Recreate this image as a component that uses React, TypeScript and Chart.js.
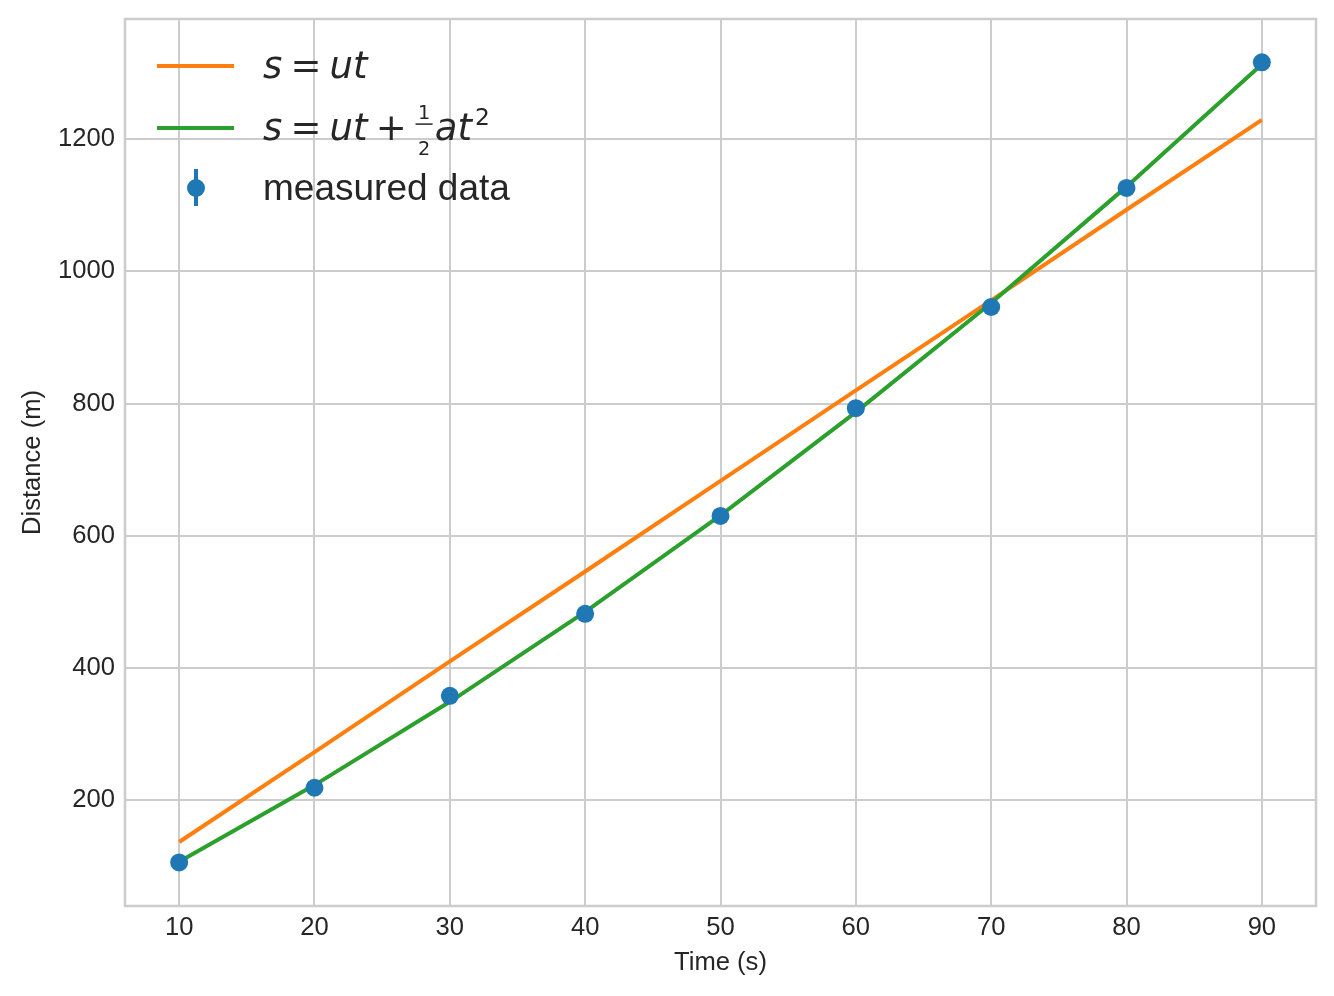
import React, { useEffect, useRef } from "react";
import { Chart, registerables } from "chart.js";

Chart.register(...registerables);

// ---- data ----
const times = [10, 20, 30, 40, 50, 60, 70, 80, 90];
const measured = [106, 219, 358, 482, 630, 793, 946, 1126, 1316];
const measuredErr = [5, 5, 5, 5, 5, 5, 5, 5, 5];
const linearFit = [137, 273, 410, 546, 683, 820, 956, 1093, 1229];
const quadFit = [107, 223, 349, 485, 631, 787, 952, 1128, 1313];
const xTicks = [10, 20, 30, 40, 50, 60, 70, 80, 90];
const yTicks = [200, 400, 600, 800, 1000, 1200];
const xLabel = "Time (s)";
const yLabel = "Distance (m)";
const legendMeasured = "measured data";

// ---- style ----
const BLUE = "#1f77b4";
const ORANGE = "#ff7f0e";
const GREEN = "#2ca02c";
const TEXT = "#262626";
const GRID = "#cccccc";
const SANS = '"Liberation Sans", Arial, sans-serif';
const MATH = '"DejaVu Sans", sans-serif';
const TICK_SIZE = 25.6;
const LEG_SIZE = 37;

type Part =
  | { kind: "txt"; t: string; italic?: boolean; scale?: number; dy?: number }
  | { kind: "sp"; w: number }
  | { kind: "frac"; num: string; den: string; scale: number };

function drawMath(ctx: CanvasRenderingContext2D, x: number, baseline: number, parts: Part[], F: number) {
  let cx = x;
  ctx.fillStyle = TEXT;
  ctx.textBaseline = "alphabetic";
  ctx.textAlign = "left";
  for (const p of parts) {
    if (p.kind === "sp") {
      cx += p.w * F;
    } else if (p.kind === "txt") {
      const size = F * (p.scale ?? 1);
      ctx.font = `${p.italic ? "italic " : ""}${size}px ${MATH}`;
      ctx.fillText(p.t, cx, baseline + (p.dy ?? 0) * F);
      cx += ctx.measureText(p.t).width;
    } else {
      const size = F * p.scale;
      ctx.font = `${size}px ${MATH}`;
      const wn = ctx.measureText(p.num).width;
      const wd = ctx.measureText(p.den).width;
      const w = Math.max(wn, wd) + 0.13 * F;
      const x0 = cx + 0.02 * F;
      const th = 0.04 * F;
      ctx.fillText(p.num, x0 + (w - wn) / 2, baseline - 0.57 * F);
      ctx.fillText(p.den, x0 + (w - wd) / 2, baseline + 0.4 * F);
      ctx.fillRect(x0, baseline - 0.43 * F - th / 2, w, th);
      cx = x0 + w + 0.06 * F;
    }
  }
}

const legendPlugin = {
  id: "customLegend",
  afterDraw(chart: any) {
    const { ctx, chartArea } = chart;
    const L = chartArea.left;
    const T = chartArea.top;
    ctx.save();
    ctx.lineWidth = 4;
    ctx.lineCap = "butt";
    ctx.strokeStyle = ORANGE;
    ctx.beginPath();
    ctx.moveTo(L + 32, T + 47);
    ctx.lineTo(L + 109, T + 47);
    ctx.stroke();
    ctx.strokeStyle = GREEN;
    ctx.beginPath();
    ctx.moveTo(L + 32, T + 109);
    ctx.lineTo(L + 109, T + 109);
    ctx.stroke();
    ctx.strokeStyle = BLUE;
    ctx.beginPath();
    ctx.moveTo(L + 71, T + 150);
    ctx.lineTo(L + 71, T + 187);
    ctx.stroke();
    ctx.fillStyle = BLUE;
    ctx.beginPath();
    ctx.arc(L + 71, T + 169, 9, 0, Math.PI * 2);
    ctx.fill();

    const tx = L + 138;
    const sp = 0.22;
    drawMath(ctx, tx, T + 59, [
      { kind: "txt", t: "s", italic: true },
      { kind: "sp", w: sp },
      { kind: "txt", t: "=" },
      { kind: "sp", w: sp },
      { kind: "txt", t: "ut", italic: true },
    ], LEG_SIZE);
    drawMath(ctx, tx, T + 121, [
      { kind: "txt", t: "s", italic: true },
      { kind: "sp", w: sp },
      { kind: "txt", t: "=" },
      { kind: "sp", w: sp },
      { kind: "txt", t: "ut", italic: true },
      { kind: "sp", w: sp },
      { kind: "txt", t: "+" },
      { kind: "sp", w: sp },
      { kind: "frac", num: "1", den: "2", scale: 0.52 },
      { kind: "txt", t: "at", italic: true },
      { kind: "sp", w: 0.08 },
      { kind: "txt", t: "2", scale: 0.63, dy: -0.4 },
    ], LEG_SIZE);
    ctx.font = `${LEG_SIZE}px ${SANS}`;
    ctx.fillStyle = TEXT;
    ctx.textBaseline = "alphabetic";
    ctx.fillText(legendMeasured, tx, T + 181);
    ctx.restore();
  },
};

const framePlugin = {
  id: "frame",
  beforeDatasetsDraw(chart: any) {
    const { ctx, chartArea } = chart;
    ctx.save();
    ctx.strokeStyle = GRID;
    ctx.lineWidth = 2.5;
    ctx.strokeRect(chartArea.left, chartArea.top, chartArea.right - chartArea.left, chartArea.bottom - chartArea.top);
    ctx.restore();
  },
};

const errorBarPlugin = {
  id: "errorBars",
  beforeDatasetDraw(chart: any, args: any) {
    if (args.index !== 0) return;
    const { ctx } = chart;
    const xs = chart.scales.x;
    const ys = chart.scales.y;
    ctx.save();
    ctx.strokeStyle = BLUE;
    ctx.lineWidth = 4;
    for (let i = 0; i < times.length; i++) {
      const px = xs.getPixelForValue(times[i]);
      ctx.beginPath();
      ctx.moveTo(px, ys.getPixelForValue(measured[i] - measuredErr[i]));
      ctx.lineTo(px, ys.getPixelForValue(measured[i] + measuredErr[i]));
      ctx.stroke();
    }
    ctx.restore();
  },
};

export default function App() {
  const ref = useRef<HTMLCanvasElement | null>(null);
  useEffect(() => {
    if (!ref.current) return;
    const chart = new Chart(ref.current, {
      type: "line",
      data: {
        datasets: [
          {
            label: legendMeasured,
            data: times.map((t, i) => ({ x: t, y: measured[i] })),
            showLine: false,
            pointRadius: 9,
            pointBorderWidth: 0,
            pointBackgroundColor: BLUE,
            borderColor: BLUE,
          },
          {
            label: "s = ut + 1/2 at^2",
            data: times.map((t, i) => ({ x: t, y: quadFit[i] })),
            borderColor: GREEN,
            borderWidth: 4,
            pointRadius: 0,
            tension: 0,
          },
          {
            label: "s = ut",
            data: times.map((t, i) => ({ x: t, y: linearFit[i] })),
            borderColor: ORANGE,
            borderWidth: 4,
            pointRadius: 0,
            tension: 0,
          },
        ],
      },
      options: {
        animation: false,
        responsive: false,
        devicePixelRatio: 1,
        layout: { padding: { top: 19, right: 18, left: 0, bottom: 0 } },
        plugins: { legend: { display: false }, tooltip: { enabled: false } },
        scales: {
          x: {
            type: "linear",
            min: 6,
            max: 94,
            afterBuildTicks: (ax: any) => {
              ax.ticks = xTicks.map((v) => ({ value: v }));
            },
            afterFit: (ax: any) => {
              ax.height = 90;
              ax.paddingLeft = 0;
              ax.paddingRight = 0;
            },
            grid: { color: GRID, lineWidth: 2, drawTicks: false },
            border: { display: false },
            ticks: {
              padding: 7,
              maxRotation: 0,
              autoSkip: false,
              color: TEXT,
              font: { family: SANS, size: TICK_SIZE },
              callback: (v: any) => String(v),
            },
            title: {
              display: true,
              text: xLabel,
              color: TEXT,
              font: { family: SANS, size: TICK_SIZE },
              padding: { top: 0, bottom: 18 },
            },
          },
          y: {
            type: "linear",
            min: 40.2,
            max: 1381.5,
            afterBuildTicks: (ax: any) => {
              ax.ticks = yTicks.map((v) => ({ value: v }));
            },
            afterFit: (ax: any) => {
              ax.width = 125;
              ax.paddingTop = 0;
              ax.paddingBottom = 0;
            },
            grid: { color: GRID, lineWidth: 2, drawTicks: false },
            border: { display: false },
            ticks: {
              padding: 10,
              color: TEXT,
              font: { family: SANS, size: TICK_SIZE },
              callback: (v: any) => String(v),
            },
            title: {
              display: true,
              text: yLabel,
              color: TEXT,
              font: { family: SANS, size: TICK_SIZE },
              padding: { top: 18, bottom: 0 },
            },
          },
        },
      },
      plugins: [framePlugin, errorBarPlugin, legendPlugin],
    } as any);
    return () => chart.destroy();
  }, []);
  return (
    <div style={{ position: "absolute", left: 0, top: 0, width: 1334, height: 996, background: "#fff" }}>
      <canvas ref={ref} width={1334} height={996} style={{ display: "block" }} />
    </div>
  );
}
